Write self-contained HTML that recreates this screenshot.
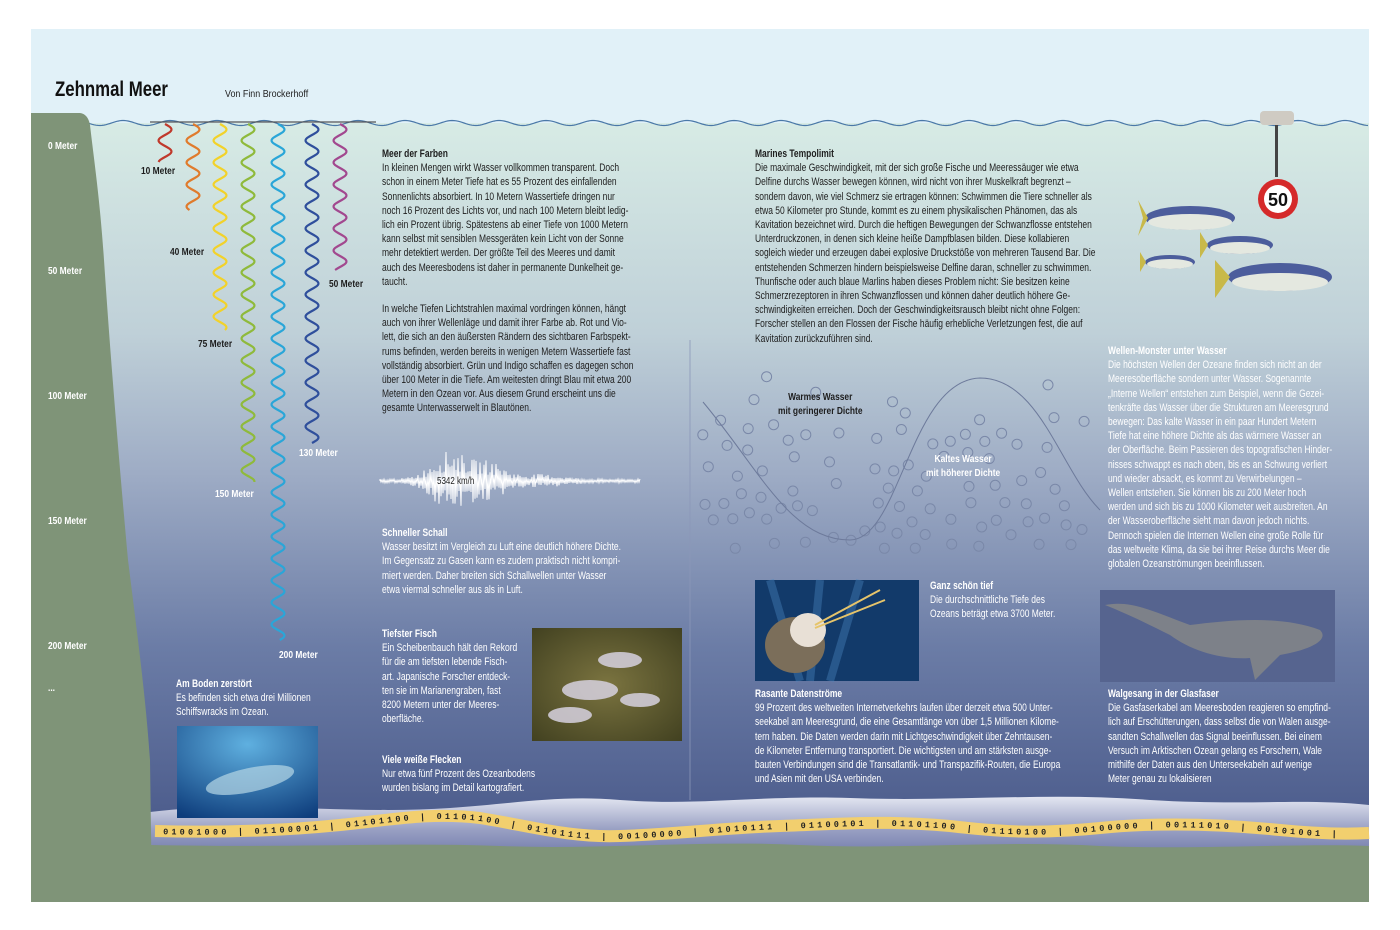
<!DOCTYPE html>
<html><head><meta charset="utf-8">
<style>
html,body{margin:0;padding:0;background:#fff;}
#c{position:relative;width:1400px;height:930px;overflow:hidden;background:#fff;font-family:"Liberation Sans",sans-serif;}
.t{position:absolute;font-size:10.6px;line-height:14.2px;white-space:nowrap;color:#1e1e1e;transform:scaleX(0.8);transform-origin:0 0;}
.t b{font-weight:bold;}
.w{color:#fff;}
.lbl{position:absolute;font-size:10.5px;font-weight:bold;color:#1e1e1e;white-space:nowrap;transform:scaleX(0.8);transform-origin:0 0;}
.dl{position:absolute;left:48px;font-size:10.5px;font-weight:bold;color:#fff;transform:scaleX(0.8);transform-origin:0 0;}
</style></head><body>
<div id="c">
<svg width="1400" height="930" style="position:absolute;left:0;top:0" xmlns="http://www.w3.org/2000/svg">
<defs>
<linearGradient id="wg" x1="0" y1="0" x2="0" y2="1">
<stop offset="0" stop-color="#d7ebe5"/>
<stop offset="0.3" stop-color="#bfd0d8"/>
<stop offset="0.5" stop-color="#9eacc5"/>
<stop offset="0.75" stop-color="#6b7ca6"/>
<stop offset="1" stop-color="#4c5c8c"/>
</linearGradient>
<linearGradient id="sb" x1="0" y1="0" x2="0" y2="1">
<stop offset="0" stop-color="#e3e6f1"/>
<stop offset="0.6" stop-color="#9aa1c4"/>
<stop offset="1" stop-color="#7a83b0"/>
</linearGradient>
<radialGradient id="wr" cx="0.5" cy="0.2" r="0.9"><stop offset="0" stop-color="#5fb0e0"/><stop offset="1" stop-color="#0e3d7c"/></radialGradient>
<radialGradient id="fr" cx="0.5" cy="0.5" r="0.8"><stop offset="0" stop-color="#7b7440"/><stop offset="1" stop-color="#3a3a1c"/></radialGradient>
</defs>
<rect x="31" y="29" width="1338" height="873" fill="#e1f1f8"/>
<rect x="31" y="123" width="1338" height="700" fill="url(#wg)"/>
<path id="surf" d="" fill="none" stroke="#4a78a8" stroke-width="1.2"/>
<line x1="150" y1="122" x2="376" y2="122" stroke="#555" stroke-width="1.2"/>
<line x1="690" y1="340" x2="690" y2="800" stroke="#8b97b8" stroke-width="0.8"/>
<path d="M150 812 C 250 800,350 815,450 808 C 520 803,560 795,620 800 C 700 806,760 795,850 798 C 950 802,1050 792,1150 800 C 1250 806,1300 798,1369 805 L1369 850 L150 850 Z" fill="url(#sb)"/>
<path d="M150 845 C 300 848,400 842,500 846 C 600 850,700 840,800 845 C 900 850,1000 840,1100 846 C 1200 850,1300 843,1369 846 L1369 902 L150 902 Z" fill="#7f9478"/>
<path d="M31 113 L80 113 Q 88 114 90 125 C 94 160,100 200,104 260 C 110 350,118 450,128 560 C 138 640,146 700,150 760 L152 902 L31 902 Z" fill="#7f9478"/>
<path id="cab" d="M155 831 C 230 833,290 830,340 825 C 390 820,430 812,480 818 C 530 826,570 838,620 836 C 680 834,720 828,780 826 C 840 824,880 820,950 826 C 1000 832,1040 834,1100 828 C 1160 822,1220 824,1280 830 C 1320 834,1350 834,1369 833" fill="none" stroke="#f2cf6e" stroke-width="12"/>
<text font-family="Liberation Mono,monospace" font-size="8.5" font-weight="bold" fill="#222" dy="3" letter-spacing="3.2"><textPath href="#cab" startOffset="8">01001000 | 01100001 | 01101100 | 01101100 | 01101111 | 00100000 | 01010111 | 01100101 | 01101100 | 01110100 | 00100000 | 00111010 | 00101001 |</textPath></text>
<g id="waves"></g>
<g id="bub" fill="none" stroke="#7a88a8" stroke-width="1"></g>
<path d="M703 402 C 760 470,790 540,850 540 C 900 540,910 380,980 378 C 1040 378,1060 470,1100 510" fill="none" stroke="#6d7a9b" stroke-width="1"/>
<path id="seis" d="" fill="none" stroke="#fff" stroke-width="1"/>
<rect x="177" y="726" width="141" height="92" fill="url(#wr)"/>
<ellipse cx="250" cy="780" rx="45" ry="12" fill="#b7d7e6" opacity="0.7" transform="rotate(-12 250 780)"/>
<rect x="532" y="628" width="150" height="113" fill="url(#fr)"/>
<g fill="#d7d2e0" opacity="0.85"><ellipse cx="590" cy="690" rx="28" ry="10"/><ellipse cx="620" cy="660" rx="22" ry="8"/><ellipse cx="570" cy="715" rx="22" ry="8"/><ellipse cx="640" cy="700" rx="20" ry="7"/></g>
<rect x="755" y="580" width="164" height="101" fill="#123a6a"/>
<path d="M770 580 L800 681 M820 580 L810 681 M860 580 L830 681" stroke="#4a86c0" stroke-width="8" opacity="0.4"/>
<ellipse cx="795" cy="645" rx="30" ry="28" fill="#7b6e5a"/>
<ellipse cx="808" cy="630" rx="18" ry="17" fill="#e8e0d6"/>
<path d="M815 625 L880 590 M815 628 L885 600" stroke="#e6c46a" stroke-width="2"/>
<rect x="1100" y="590" width="235" height="92" fill="#56648f"/>
<path d="M1105 605 C 1130 600,1150 610,1190 625 C 1230 620,1280 615,1320 630 C 1330 640,1310 650,1280 655 L1255 680 L1250 658 C 1220 660,1190 650,1170 635 C 1150 625,1130 615,1105 605Z" fill="#7d8189"/>
<rect x="1275" y="115" width="3" height="62" fill="#444"/>
<rect x="1260" y="111" width="34" height="14" rx="4" fill="#cfcbc3"/>
<circle cx="1278" cy="199" r="20" fill="#d52a2a"/><circle cx="1278" cy="199" r="14" fill="#fff"/>
<text x="1278" y="206" text-anchor="middle" font-family="Liberation Sans,sans-serif" font-weight="bold" font-size="18" fill="#111">50</text>
<g>
<ellipse cx="1190" cy="218" rx="45" ry="12" fill="#4c5d9c"/><ellipse cx="1190" cy="222" rx="42" ry="8" fill="#e4e8e0"/><path d="M1148 218 L1138 200 L1143 218 L1138 236Z" fill="#c8b94a"/>
<ellipse cx="1240" cy="245" rx="33" ry="9" fill="#4c5d9c"/><ellipse cx="1240" cy="248" rx="30" ry="6" fill="#e4e8e0"/><path d="M1208 245 L1200 232 L1200 258Z" fill="#c8b94a"/>
<ellipse cx="1170" cy="262" rx="25" ry="7" fill="#4c5d9c"/><ellipse cx="1170" cy="264" rx="23" ry="5" fill="#e4e8e0"/><path d="M1146 262 L1140 252 L1140 272Z" fill="#c8b94a"/>
<ellipse cx="1280" cy="277" rx="52" ry="14" fill="#4c5d9c"/><ellipse cx="1280" cy="282" rx="48" ry="9" fill="#e4e8e0"/><path d="M1230 277 L1215 260 L1215 298Z" fill="#c8b94a"/>
</g>
</svg>

<div style="position:absolute;left:55px;top:78px;font-size:21px;font-weight:bold;color:#111;transform:scaleX(0.8);transform-origin:0 0;white-space:nowrap">Zehnmal Meer</div>
<div style="position:absolute;left:225px;top:88px;font-size:10.5px;color:#222;transform:scaleX(0.85);transform-origin:0 0;white-space:nowrap">Von Finn Brockerhoff</div>

<div class="dl" style="top:140px">0 Meter</div>
<div class="dl" style="top:265px">50 Meter</div>
<div class="dl" style="top:390px">100 Meter</div>
<div class="dl" style="top:515px">150 Meter</div>
<div class="dl" style="top:640px">200 Meter</div>
<div class="dl" style="top:682px">...</div>

<div class="lbl" style="left:141px;top:165px">10 Meter</div>
<div class="lbl" style="left:170px;top:246px">40 Meter</div>
<div class="lbl" style="left:198px;top:338px">75 Meter</div>
<div class="lbl" style="left:215px;top:488px;color:#fff">150 Meter</div>
<div class="lbl" style="left:279px;top:649px;color:#fff">200 Meter</div>
<div class="lbl" style="left:299px;top:447px;color:#fff">130 Meter</div>
<div class="lbl" style="left:329px;top:278px">50 Meter</div>

<div class="t" style="left:382px;top:147px"><b>Meer der Farben</b><br>In kleinen Mengen wirkt Wasser vollkommen transparent. Doch<br>schon in einem Meter Tiefe hat es 55 Prozent des einfallenden<br>Sonnenlichts absorbiert. In 10 Metern Wassertiefe dringen nur<br>noch 16 Prozent des Lichts vor, und nach 100 Metern bleibt ledig-<br>lich ein Prozent übrig. Spätestens ab einer Tiefe von 1000 Metern<br>kann selbst mit sensiblen Messgeräten kein Licht von der Sonne<br>mehr detektiert werden. Der größte Teil des Meeres und damit<br>auch des Meeresbodens ist daher in permanente Dunkelheit ge-<br>taucht.</div>
<div class="t" style="left:382px;top:302px">In welche Tiefen Lichtstrahlen maximal vordringen können, hängt<br>auch von ihrer Wellenläge und damit ihrer Farbe ab. Rot und Vio-<br>lett, die sich an den äußersten Rändern des sichtbaren Farbspekt-<br>rums befinden, werden bereits in wenigen Metern Wassertiefe fast<br>vollständig absorbiert. Grün und Indigo schaffen es dagegen schon<br>über 100 Meter in die Tiefe. Am weitesten dringt Blau mit etwa 200<br>Metern in den Ozean vor. Aus diesem Grund erscheint uns die<br>gesamte Unterwasserwelt in Blautönen.</div>

<div class="t" style="left:755px;top:147px"><b>Marines Tempolimit</b><br>Die maximale Geschwindigkeit, mit der sich große Fische und Meeressäuger wie etwa<br>Delfine durchs Wasser bewegen können, wird nicht von ihrer Muskelkraft begrenzt –<br>sondern davon, wie viel Schmerz sie ertragen können: Schwimmen die Tiere schneller als<br>etwa 50 Kilometer pro Stunde, kommt es zu einem physikalischen Phänomen, das als<br>Kavitation bezeichnet wird. Durch die heftigen Bewegungen der Schwanzflosse entstehen<br>Unterdruckzonen, in denen sich kleine heiße Dampfblasen bilden. Diese kollabieren<br>sogleich wieder und erzeugen dabei explosive Druckstöße von mehreren Tausend Bar. Die<br>entstehenden Schmerzen hindern beispielsweise Delfine daran, schneller zu schwimmen.<br>Thunfische oder auch blaue Marlins haben dieses Problem nicht: Sie besitzen keine<br>Schmerzrezeptoren in ihren Schwanzflossen und können daher deutlich höhere Ge-<br>schwindigkeiten erreichen. Doch der Geschwindigkeitsrausch bleibt nicht ohne Folgen:<br>Forscher stellen an den Flossen der Fische häufig erhebliche Verletzungen fest, die auf<br>Kavitation zurückzuführen sind.</div>

<div class="t w" style="left:1108px;top:344px"><b>Wellen-Monster unter Wasser</b><br>Die höchsten Wellen der Ozeane finden sich nicht an der<br>Meeresoberfläche sondern unter Wasser. Sogenannte<br>„Interne Wellen“ entstehen zum Beispiel, wenn die Gezei-<br>tenkräfte das Wasser über die Strukturen am Meeresgrund<br>bewegen: Das kalte Wasser in ein paar Hundert Metern<br>Tiefe hat eine höhere Dichte als das wärmere Wasser an<br>der Oberfläche. Beim Passieren des topografischen Hinder-<br>nisses schwappt es nach oben, bis es an Schwung verliert<br>und wieder absackt, es kommt zu Verwirbelungen –<br>Wellen entstehen. Sie können bis zu 200 Meter hoch<br>werden und sich bis zu 1000 Kilometer weit ausbreiten. An<br>der Wasseroberfläche sieht man davon jedoch nichts.<br>Dennoch spielen die Internen Wellen eine große Rolle für<br>das weltweite Klima, da sie bei ihrer Reise durchs Meer die<br>globalen Ozeanströmungen beeinflussen.</div>

<div class="lbl" style="left:778px;top:390px;text-align:center;line-height:14px">Warmes Wasser<br>mit geringerer Dichte</div>
<div class="lbl" style="left:926px;top:452px;text-align:center;line-height:14px;color:#fff">Kaltes Wasser<br>mit höherer Dichte</div>
<div class="lbl" style="left:437px;top:476px;font-weight:normal;font-size:10px">5342 km/h</div>

<div class="t w" style="left:382px;top:526px"><b>Schneller Schall</b><br>Wasser besitzt im Vergleich zu Luft eine deutlich höhere Dichte.<br>Im Gegensatz zu Gasen kann es zudem praktisch nicht kompri-<br>miert werden. Daher breiten sich Schallwellen unter Wasser<br>etwa viermal schneller aus als in Luft.</div>
<div class="t w" style="left:382px;top:627px"><b>Tiefster Fisch</b><br>Ein Scheibenbauch hält den Rekord<br>für die am tiefsten lebende Fisch-<br>art. Japanische Forscher entdeck-<br>ten sie im Marianengraben, fast<br>8200 Metern unter der Meeres-<br>oberfläche.</div>
<div class="t w" style="left:382px;top:753px"><b>Viele weiße Flecken</b><br>Nur etwa fünf Prozent des Ozeanbodens<br>wurden  bislang im Detail kartografiert.</div>
<div class="t w" style="left:176px;top:677px"><b>Am Boden zerstört</b><br>Es befinden sich etwa drei Millionen<br>Schiffswracks im Ozean.</div>
<div class="t w" style="left:930px;top:579px"><b>Ganz schön tief</b><br>Die durchschnittliche Tiefe des<br>Ozeans beträgt etwa 3700 Meter.</div>
<div class="t w" style="left:755px;top:687px"><b>Rasante Datenströme</b><br>99 Prozent des weltweiten Internetverkehrs laufen über derzeit etwa 500 Unter-<br>seekabel am Meeresgrund, die eine Gesamtlänge von über 1,5 Millionen Kilome-<br>tern haben. Die Daten werden darin mit Lichtgeschwindigkeit über Zehntausen-<br>de Kilometer Entfernung transportiert. Die wichtigsten und am stärksten ausge-<br>bauten Verbindungen sind die Transatlantik- und Transpazifik-Routen, die Europa<br>und Asien mit den USA verbinden.</div>
<div class="t w" style="left:1108px;top:687px"><b>Walgesang in der Glasfaser</b><br>Die Gasfaserkabel am Meeresboden reagieren so empfind-<br>lich auf Erschütterungen, dass selbst die von Walen ausge-<br>sandten Schallwellen das Signal beeinflussen. Bei einem<br>Versuch im Arktischen Ozean gelang es Forschern, Wale<br>mithilfe der Daten aus den Unterseekabeln auf wenige<br>Meter genau zu lokalisieren</div>
</div>
<script>
(function(){
var NS="http://www.w3.org/2000/svg";
var d="M88 123";for(var x=88;x<=1369;x+=2){d+=" L"+x+" "+(123+2.5*Math.sin((x-88)/47*2*Math.PI)).toFixed(1);}
document.getElementById("surf").setAttribute("d",d);
var cols=[[165,124,162,"#c0392b"],[193,124,210,"#e07b2c"],[220,124,330,"#f2d22a"],[248,124,482,"#8fba3b"],[278,124,640,"#2aa6d8"],[312,124,443,"#2f4f9c"],[340,124,270,"#a2488f"]];
var g=document.getElementById("waves");
cols.forEach(function(c){var p="M"+c[0]+" "+c[1];for(var y=c[1];y<=c[2];y+=1){p+=" L"+(c[0]+6.5*Math.sin((y-c[1])/22*2*Math.PI)).toFixed(1)+" "+y;}
var e=document.createElementNS(NS,"path");e.setAttribute("d",p);e.setAttribute("stroke",c[3]);e.setAttribute("stroke-width","2.2");e.setAttribute("fill","none");g.appendChild(e);});
var b=document.getElementById("bub");var s=7;function r(){s=(s*9301+49297)%233280;return s/233280;}
function curve(x){ if(x<850)return 402+(x-703)/(850-703)*138*Math.sin(Math.min(1,(x-703)/147)*Math.PI/2); return 540-138*Math.sin(Math.min(1,(x-850)/130)*Math.PI/2)+ (x>980? (x-980)*1.1:0);}
for(var i=0;i<420;i++){var x=700+r()*395,y=370+r()*180;var cy=curve(x);var inside=y>cy;if(!inside&&r()>0.12)continue;
var ok=true;for(var j=0;j<b.childNodes.length;j++){var n=b.childNodes[j];var dx=n.cx0-x,dy=n.cy0-y;if(dx*dx+dy*dy<240){ok=false;break;}}if(!ok)continue;
var c=document.createElementNS(NS,"circle");c.setAttribute("cx",x.toFixed(1));c.setAttribute("cy",y.toFixed(1));c.setAttribute("r","5");c.cx0=x;c.cy0=y;b.appendChild(c);}
var p="M380 481";for(var x=380;x<=640;x+=1){var env=2+28*Math.exp(-Math.pow((x-450)/25,2))+16*Math.exp(-Math.pow((x-490)/20,2))+5*Math.exp(-Math.pow((x-540)/30,2));var a=env*(0.3+0.7*r());p+=" L"+x+" "+(481+(x%2?a:-a)).toFixed(1);}
document.getElementById("seis").setAttribute("d",p);
})();
</script>
</body></html>
